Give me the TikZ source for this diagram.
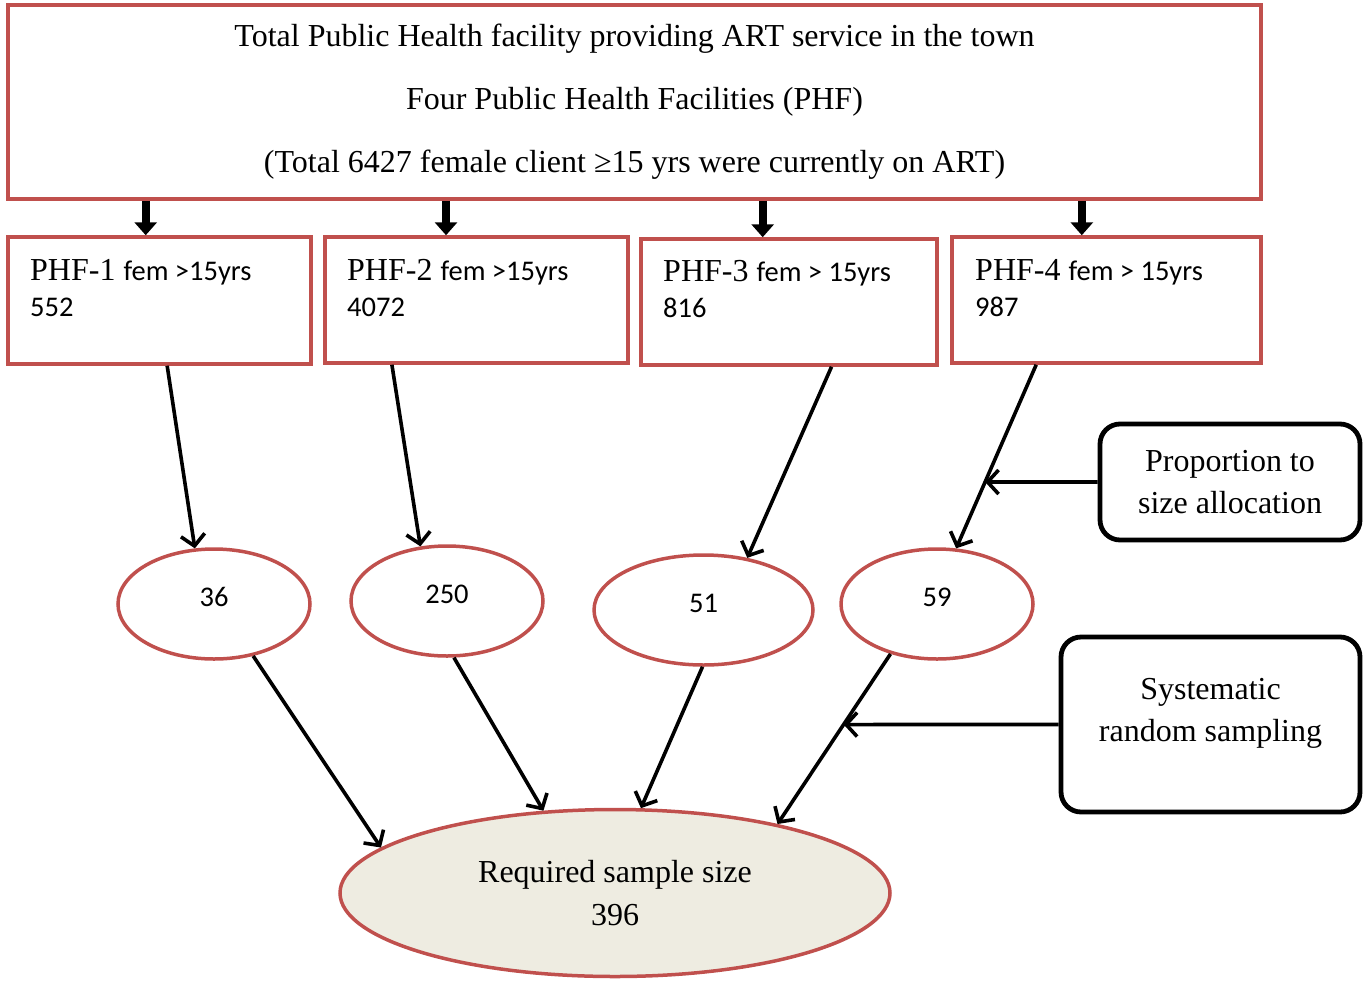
\documentclass[tikz,border=0pt]{standalone}
\usepackage{fontspec}
\setmainfont{Liberation Serif}
\newfontfamily\calib{Carlito}
\usetikzlibrary{arrows.meta,shapes.geometric,calc}
\definecolor{bred}{HTML}{C0504D}
\definecolor{efill}{HTML}{EEECE1}
\begin{document}
\begin{tikzpicture}[x=1pt,y=-1pt,
  redbox/.style={draw=bred,line width=3.5pt,inner sep=0pt},
  redell/.style={ellipse,draw=bred,line width=3.5pt,inner sep=0pt,minimum height=110pt,
     font=\calib\fontsize{28.5}{32}\selectfont,text depth=14pt},
  blkbox/.style={draw=black,line width=4.8pt,rounded corners=20pt,inner sep=0pt},
  serif/.style={font=\fontsize{32}{42.5}\selectfont},
  phftext/.style={anchor=base west,inner sep=0pt,font=\fontsize{32}{36}\selectfont,align=left},
  thick arrow/.style={line width=8pt,-{Triangle[width=22pt,length=13pt]}},
  thin arrow/.style={line width=3.6pt,-{Straight Barb[length=11pt,width=24pt]}}]
\path[use as bounding box] (0,0) rectangle (1367,980);
% top box
\node[redbox,minimum width=1253pt,minimum height=194pt,align=center,
      font=\fontsize{32}{63}\selectfont] (top) at (634.5,102)
  {Total Public Health facility providing ART service in the town\\
   Four Public Health Facilities (PHF)\\
   (Total 6427 female client ≥15 yrs were currently on ART)};
% PHF boxes
\node[redbox,minimum width=303pt,minimum height=127pt] (p1) at (159.5,300.5) {};
\node[redbox,minimum width=303pt,minimum height=126pt] (p2) at (476.5,300) {};
\node[redbox,minimum width=296pt,minimum height=126pt] (p3) at (789,302) {};
\node[redbox,minimum width=309pt,minimum height=126pt] (p4) at (1106.5,300) {};
\node[phftext] (t1) at (30,316) {PHF-1 {\calib\fontsize{28.5}{36}\selectfont fem >15yrs}\\{\calib\fontsize{28.5}{36}\selectfont 552}};
\node[phftext] (t2) at (347,316) {PHF-2 {\calib\fontsize{28.5}{36}\selectfont fem >15yrs}\\{\calib\fontsize{28.5}{36}\selectfont 4072}};
\node[phftext] (t3) at (663,317) {PHF-3 {\calib\fontsize{28.5}{36}\selectfont fem > 15yrs}\\{\calib\fontsize{28.5}{36}\selectfont 816}};
\node[phftext] (t4) at (975,316) {PHF-4 {\calib\fontsize{28.5}{36}\selectfont fem > 15yrs}\\{\calib\fontsize{28.5}{36}\selectfont 987}};
% thick arrows
\coordinate (a1) at ($(top.south west)!0.111!(top.south east)$);
\coordinate (a2) at ($(top.south west)!0.350!(top.south east)$);
\coordinate (a3) at ($(top.south west)!0.602!(top.south east)$);
\coordinate (a4) at ($(top.south west)!0.856!(top.south east)$);
\draw[thick arrow] (a1) -- (a1 |- p1.north);
\draw[thick arrow] (a2) -- (a2 |- p2.north);
\draw[thick arrow] (a3) -- (a3 |- p3.north);
\draw[thick arrow] (a4) -- (a4 |- p4.north);
% ellipses
\node[redell,minimum width=192pt] (e1) at (214,604) {36};
\node[redell,minimum width=192pt] (e2) at (447,601) {250};
\node[redell,minimum width=219pt] (e3) at (703.5,610) {51};
\node[redell,minimum width=192pt] (e4) at (937,604) {59};
% big ellipse
\node[ellipse,draw=bred,fill=efill,line width=3.5pt,inner sep=0pt,minimum width=550pt,
      minimum height=167pt,align=center,serif] (big) at (615,893)
  {Required sample size\\396};
% side boxes
\node[blkbox,minimum width=260pt,minimum height=116pt,align=center,serif] (prop) at (1230,482)
  {Proportion to\\size allocation};
\node[blkbox,minimum width=299pt,minimum height=175pt,
      label={[serif,align=center,yshift=11pt]center:Systematic\\random sampling}] (sys) at (1210.5,724.5) {};
% PHF -> ellipse arrows
\coordinate (s1) at ($(p1.south west)!0.525!(p1.south east)$);
\coordinate (s2) at ($(p2.south west)!0.224!(p2.south east)$);
\coordinate (s3) at ($(p3.south west)!0.642!(p3.south east)$);
\coordinate (s4) at ($(p4.south west)!0.275!(p4.south east)$);
\draw[thin arrow] (s1) -- (e1.109);
\draw[thin arrow] (s2) -- (e2.116);
\draw[thin arrow] (s3) -- (e3.50);
\draw[thin arrow] (s4) -- (e4.71);
% ellipse -> big arrows
\draw[thin arrow] (e1.307) -- (big.169);
\draw[thin arrow] (e2.277) -- (big.131);
\draw[thin arrow] (e3.269) -- (big.73);
\draw[thin arrow] (e4.227) -- (big.23);
% side arrows
\coordinate (pw) at ($(prop.west)+(-10,0)$);
\coordinate (sw) at ($(sys.west)+(-10,0)$);
\coordinate (x1) at (intersection of s4--e4.71 and prop.west--pw);
\coordinate (x2) at (intersection of e4.227--big.23 and sys.west--sw);
\draw[thin arrow] (prop.west) -- (x1);
\draw[thin arrow] (sys.west) -- (x2);
\end{tikzpicture}
\end{document}
